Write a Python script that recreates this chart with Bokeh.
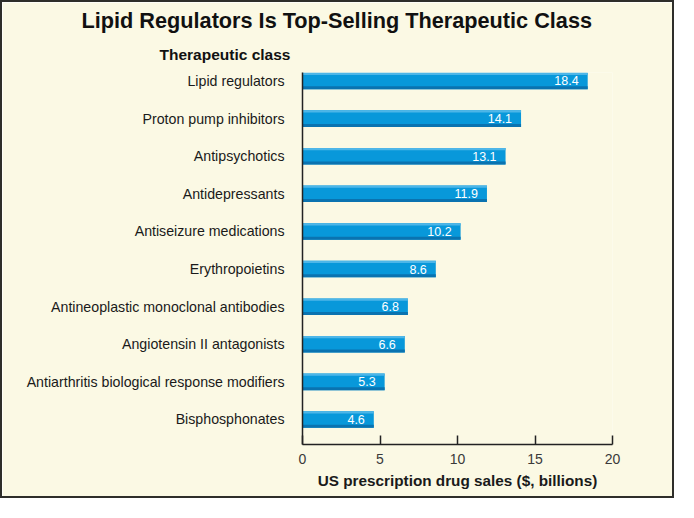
from bokeh.plotting import figure
from bokeh.models import ColumnDataSource, Range1d, Title, FixedTicker
from bokeh.transform import dodge
from bokeh.core.properties import value
from bokeh.embed import file_html
from bokeh.resources import INLINE

categories = [
    "Lipid regulators",
    "Proton pump inhibitors",
    "Antipsychotics",
    "Antidepressants",
    "Antiseizure medications",
    "Erythropoietins",
    "Antineoplastic monoclonal antibodies",
    "Angiotensin II antagonists",
    "Antiarthritis biological response modifiers",
    "Bisphosphonates",
]
sales = [18.4, 14.1, 13.1, 11.9, 10.2, 8.6, 6.8, 6.6, 5.3, 4.6]
x_ticks = [0, 5, 10, 15, 20]

n = len(categories)
ypos = [n - 1 - i for i in range(n)]
src = ColumnDataSource(dict(y=ypos, v=sales, lab=[f"{s:.1f}" for s in sales]))

BG = "#FBF9E4"
FONT = "Liberation Sans"

p = figure(width=674, height=498, output_backend="svg", toolbar_location=None,
           x_range=Range1d(0, 20), y_range=Range1d(-0.665, 9.226),
           min_border_left=300, min_border_right=64, min_border_top=70, min_border_bottom=56,
           background_fill_color=BG, border_fill_color=BG, outline_line_color=None,
           title="Lipid Regulators Is Top-Selling Therapeutic Class")
p.styles = {"border": "2px solid #2e2e2a"}

p.title.align = "left"
p.title.offset = -221
p.title.text_font = FONT
p.title.text_font_size = "21.7px"
p.title.text_font_style = "bold"
p.title.text_color = "#111111"
p.title.standoff = 2

p.add_layout(Title(text="Therapeutic class",
                   align="left", offset=-143, text_font=FONT, text_font_size="15.5px",
                   text_font_style="bold", text_color="#111111", standoff=20), "above")

p.grid.visible = False

# bars with a simple vertical shading
p.hbar(y="y", right="v", left=0, height=0.44, source=src, fill_color="#0898DA", line_color=None)
p.hbar(y=dodge("y", 0.19, range=p.y_range), right="v", left=0, height=0.06, source=src,
       fill_color="#4DB6E8", line_color=None)
p.hbar(y=dodge("y", -0.18, range=p.y_range), right="v", left=0, height=0.08, source=src,
       fill_color="#0A73B0", line_color=None)

p.text(x="v", y="y", text="lab", source=src, x_offset=-9, text_align="right",
       text_baseline="middle", text_color="white", text_font_size="12.5px",
       text_font=value(FONT))

# x axis
xa = p.xaxis[0]
xa.ticker = FixedTicker(ticks=x_ticks)
xa.minor_tick_line_color = None
xa.major_tick_in = 9
xa.major_tick_out = 0
xa.axis_line_color = "#222222"
xa.axis_line_width = 1.5
xa.major_tick_line_color = "#222222"
xa.major_tick_line_width = 1.5
xa.major_label_text_font = FONT
xa.major_label_text_font_size = "14px"
xa.major_label_text_color = "#3a3a3a"
xa.major_label_standoff = 9
xa.axis_label = "US prescription drug sales ($, billions)"
xa.axis_label_text_font = FONT
xa.axis_label_text_font_size = "15.3px"
xa.axis_label_text_font_style = "bold"
xa.axis_label_text_color = "#1a1a1a"
xa.axis_label_standoff = 5

# y axis
ya = p.yaxis[0]
ya.ticker = FixedTicker(ticks=ypos)
ya.major_label_overrides = {y: c for y, c in zip(ypos, categories)}
ya.major_tick_line_color = None
ya.minor_tick_line_color = None
ya.axis_line_color = "#222222"
ya.axis_line_width = 1.5
ya.major_label_text_font = FONT
ya.major_label_text_font_size = "14.2px"
ya.major_label_text_color = "#1a1a1a"
ya.major_label_standoff = 12

open("out.html", "w").write(file_html(p, INLINE))
